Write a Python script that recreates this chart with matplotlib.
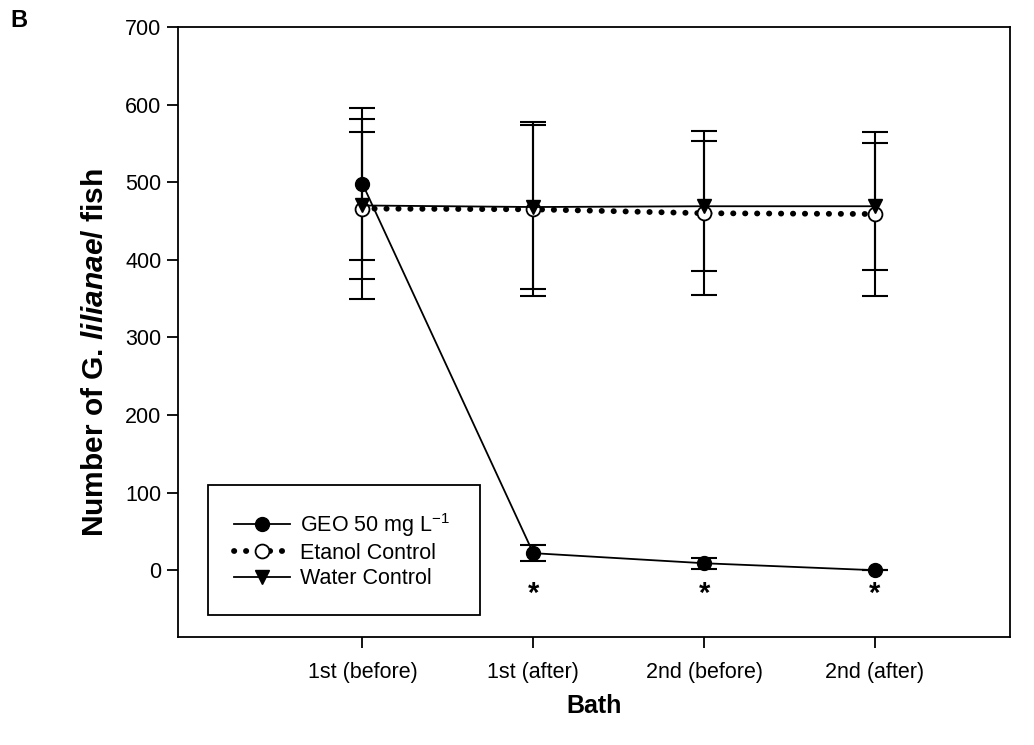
import matplotlib.pyplot as plt
import numpy as np

plt.rcParams['font.family'] = ['Liberation Sans', 'DejaVu Sans']
plt.rcParams['mathtext.fontset'] = 'custom'
plt.rcParams['mathtext.rm'] = 'Liberation Sans'
plt.rcParams['mathtext.it'] = 'Liberation Sans:italic'
plt.rcParams['mathtext.bf'] = 'Liberation Sans:bold'
plt.rcParams['mathtext.bfit'] = 'Liberation Sans:italic:bold'

# --- data ---
baths = ['1st (before)', '1st (after)', '2nd (before)', '2nd (after)']

geo_mean = [498, 22, 9, 0]
geo_err = [98, 10, 7, 0]

etanol_mean = [466, 465, 460, 459]
etanol_err = [116, 112, 106, 106]

water_mean = [470, 468, 469, 469]
water_err = [95, 106, 84, 82]

signif = [False, True, True, True]
star_y = -30

x = np.arange(len(baths))

fig = plt.figure(figsize=(10.34, 7.45), dpi=100)
ax = fig.add_axes([0.1721, 0.145, 0.8046, 0.8188])

eb_kw = dict(fmt='none', ecolor='black', elinewidth=1.5, capsize=9.5, capthick=1.5)

# error bars (solid for all series)
ax.errorbar(x, geo_mean, yerr=geo_err, zorder=2, **eb_kw)
ax.errorbar(x, etanol_mean, yerr=etanol_err, zorder=2, **eb_kw)
ax.errorbar(x, water_mean, yerr=water_err, zorder=2, **eb_kw)

l_geo, = ax.plot(x, geo_mean, color='black', lw=1.3, marker='o', ms=10,
                 mfc='black', mec='black', zorder=4, label='GEO 50 mg L$^{-1}$')
l_et, = ax.plot(x, etanol_mean, color='black', lw=4.2, ls=(0, (0.05, 2.0)),
                dash_capstyle='round', marker='o', ms=10, mfc='white',
                mec='black', mew=1.3, zorder=3, label='Etanol Control')
l_wa, = ax.plot(x, water_mean, color='black', lw=1.3, marker='v', ms=10.5,
                mfc='black', mec='black', zorder=5, label='Water Control')

for xi, s in zip(x, signif):
    if s:
        ax.text(xi, star_y, '*', ha='center', va='center', fontsize=21,
                fontweight='bold')

ax.set_xlim(-1.08, 3.79)
ax.set_ylim(-86, 700)
ax.set_yticks(np.arange(0, 701, 100))
ax.set_xticks(x)
ax.set_xticklabels(baths)
ax.tick_params(direction='out', length=8, width=1.3, labelsize=15.5, pad=4)
ax.tick_params(axis='x', pad=10)
for sp in ax.spines.values():
    sp.set_linewidth(1.3)

ax.set_xlabel('Bath', fontsize=18, fontweight='bold', labelpad=8)
ax.set_ylabel(r'Number of G. $\mathbfit{lilianae}$/ fish', fontsize=21.5,
              fontweight='bold')
ax.yaxis.set_label_coords(-0.083, 0.466)

leg = ax.legend(handles=[l_geo, l_et, l_wa], loc='lower left',
                bbox_to_anchor=(0.036, 0.036, 0.327, 0.2), mode='expand',
                fontsize=15.5, frameon=True,
                fancybox=False, edgecolor='black', framealpha=1,
                handlelength=2.6, borderpad=1.2, labelspacing=0.2,
                handletextpad=0.5, borderaxespad=0)
leg.get_frame().set_linewidth(1.3)

fig.text(0.01, 0.972, 'B', fontsize=17, fontweight='bold', va='center')

fig.savefig('out.png', dpi=100)
